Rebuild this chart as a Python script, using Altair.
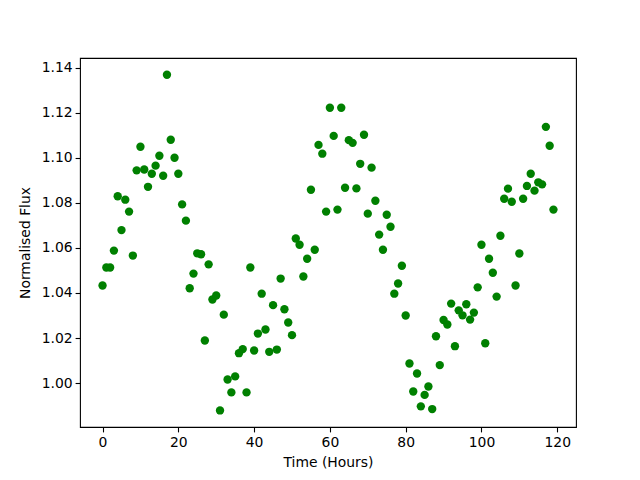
import altair as alt
import pandas as pd

time_hours = list(range(120))
flux = [
    1.0433, 1.0513, 1.0513, 1.0588, 1.0829, 1.0679, 1.0814, 1.0761, 1.0566, 1.0944,
    1.1049, 1.0948, 1.0871, 1.0929, 1.0965, 1.1009, 1.0920, 1.1368, 1.1080, 1.1000,
    1.0929, 1.0793, 1.0721, 1.0421, 1.0486, 1.0576, 1.0572, 1.0189, 1.0527, 1.0371,
    1.0389, 0.9879, 1.0304, 1.0016, 0.9959, 1.0030, 1.0133, 1.0151, 0.9959, 1.0513,
    1.0145, 1.0220, 1.0397, 1.0238, 1.0139, 1.0346, 1.0149, 1.0464, 1.0328, 1.0269,
    1.0213, 1.0642, 1.0614, 1.0473, 1.0552, 1.0858, 1.0592, 1.1057, 1.1018, 1.0761,
    1.1222, 1.1097, 1.0770, 1.1222, 1.0867, 1.1078, 1.1066, 1.0864, 1.0973, 1.1102,
    1.0752, 1.0956, 1.0809, 1.0659, 1.0592, 1.0747, 1.0694, 1.0397, 1.0442, 1.0521,
    1.0300, 1.0087, 0.9963, 1.0043, 0.9897, 0.9948, 0.9985, 0.9885, 1.0208, 1.0080,
    1.0280, 1.0260, 1.0353, 1.0164, 1.0323, 1.0301, 1.0350, 1.0282, 1.0313, 1.0425,
    1.0614, 1.0177, 1.0552, 1.0490, 1.0384, 1.0654, 1.0818, 1.0863, 1.0805, 1.0433,
    1.0575, 1.0818, 1.0875, 1.0929, 1.0854, 1.0891, 1.0882, 1.1137, 1.1053, 1.0770,
]
x_ticks = [0, 20, 40, 60, 80, 100, 120]
y_ticks = [1.00, 1.02, 1.04, 1.06, 1.08, 1.10, 1.12, 1.14]

df = pd.DataFrame({"t": time_hours, "flux": flux})

font = "DejaVu Sans"
fs = 13.9

chart = alt.Chart(df).mark_circle(size=70, color="#008000", opacity=1).encode(
    x=alt.X("t:Q", title="Time (Hours)",
            scale=alt.Scale(domain=[-5.95, 124.95], nice=False, zero=False),
            axis=alt.Axis(values=x_ticks, format="d", grid=False, domain=False,
                          tickColor="black", tickSize=4.9, tickWidth=1.1,
                          labelFont=font, labelFontSize=fs, labelColor="black",
                          labelPadding=4, titleFont=font, titleFontSize=fs,
                          titleFontWeight="normal", titleColor="black", titlePadding=6,
                          labelFlush=False)),
    y=alt.Y("flux:Q", title="Normalised Flux",
            scale=alt.Scale(domain=[0.98055, 1.14425], nice=False, zero=False),
            axis=alt.Axis(values=y_ticks, format=".2f", grid=False, domain=False,
                          tickColor="black", tickSize=4.9, tickWidth=1.1,
                          labelFont=font, labelFontSize=fs, labelColor="black",
                          labelPadding=3, titleFont=font, titleFontSize=fs,
                          titleFontWeight="normal", titleColor="black", titlePadding=9,
                          labelFlush=False)),
).properties(
    width=496, height=369,
    autosize=alt.AutoSizeParams(type="none"),
    padding={"left": 72, "top": 50, "right": 56, "bottom": 45},
).configure_view(stroke="black", strokeWidth=1.1)

chart.save("out.html", embed_options={"renderer": "svg", "actions": False})
